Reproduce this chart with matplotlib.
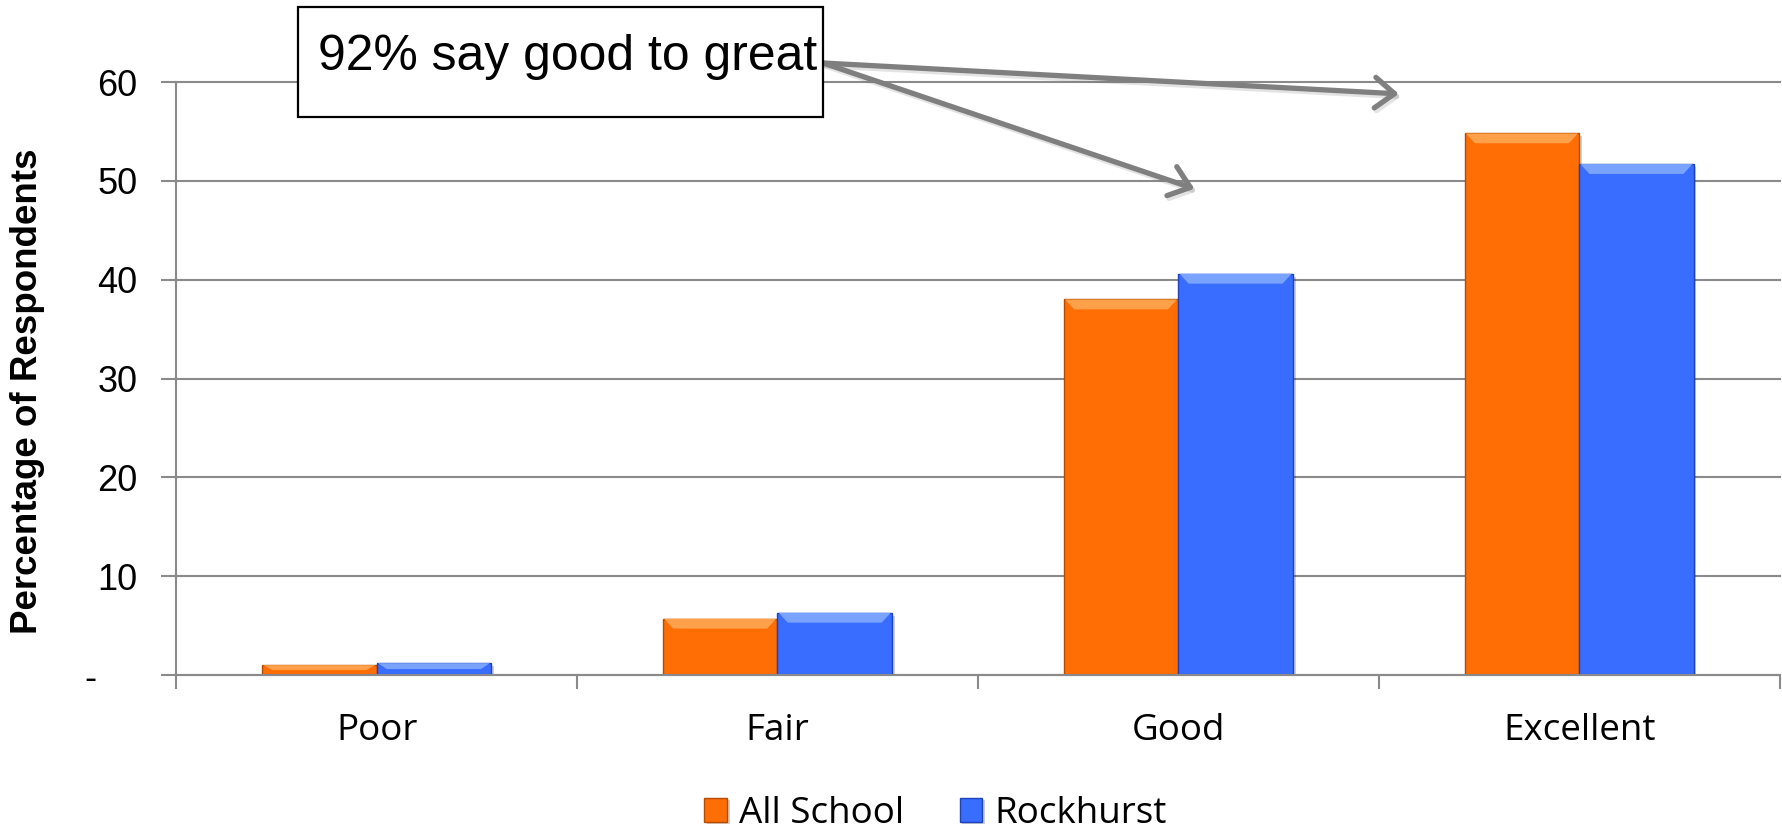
import matplotlib
matplotlib.use("Agg")
import matplotlib.pyplot as plt
import matplotlib.patheffects as pe
from matplotlib.patches import Polygon, Rectangle
import numpy as np

# Survey results (percentage of respondents)
categories = ["Poor", "Fair", "Good", "Excellent"]
all_school = [1.0, 5.7, 38.0, 54.8]
rockhurst = [1.2, 6.3, 40.6, 51.7]
series_names = ["All School", "Rockhurst"]
y_ticks = [0, 10, 20, 30, 40, 50, 60]
callout = "92% say good to great"

ORANGE, ORANGE_EDGE, ORANGE_TOP = "#ff6d05", "#b34c00", "#ffa04a"
BLUE, BLUE_EDGE, BLUE_TOP = "#396dff", "#1d43b8", "#7aa2ff"
GRID = "#8a8a8a"
ARROW = "#7f7f7f"

fig = plt.figure(figsize=(17.83, 8.31), dpi=100)
ax = fig.add_axes([0.0988, 0.1877, 0.8993, 0.7136])

x = np.arange(len(categories))
w = 1 / 3.5  # gap width 150%

shadow = [pe.SimplePatchShadow(offset=(2, -2), alpha=0.22), pe.Normal()]
b1 = ax.bar(x - w / 2, all_school, w, color=ORANGE, edgecolor=ORANGE_EDGE,
            lw=1, zorder=2, path_effects=shadow)
b2 = ax.bar(x + w / 2, rockhurst, w, color=BLUE, edgecolor=BLUE_EDGE,
            lw=1, zorder=2, path_effects=shadow)


def bevel(bars, color):
    # lighter trapezoid along the top of each bar
    for b in bars:
        x0, bw, h = b.get_x(), b.get_width(), b.get_height()
        dy = min(1.0, h * 0.5)
        dx = bw * 0.09
        ax.add_patch(Polygon([(x0 + 0.003, h), (x0 + bw - 0.003, h),
                              (x0 + bw - dx, h - dy), (x0 + dx, h - dy)],
                             closed=True, facecolor=color, edgecolor="none",
                             zorder=3))


bevel(b1, ORANGE_TOP)
bevel(b2, BLUE_TOP)

ax.set_xlim(-0.5, len(categories) - 0.5)
ax.set_ylim(0, 60)

# y axis
ax.set_yticks(y_ticks)
ax.set_yticklabels([str(v) if v else "-\u2007\u2007" for v in y_ticks],
                   family=["Liberation Sans", "DejaVu Sans"], fontsize=26)
ax.tick_params(axis="y", length=11, width=1.5, color=GRID, pad=17)
ax.yaxis.grid(True, color=GRID, lw=1.5)
for gl in ax.get_ygridlines():
    gl.set_clip_on(False)
ax.set_axisbelow(True)

# x axis: ticks between categories, labels centred
ax.set_xticks(np.arange(-0.5, len(categories), 1))
ax.tick_params(axis="x", which="major", length=10, width=1.5, color=GRID,
               labelbottom=False)
ax.set_xticks(x, minor=True)
ax.set_xticklabels(categories, minor=True, family="Open Sans", fontsize=26.5)
ax.tick_params(axis="x", which="minor", length=0, pad=27)

for s in ["top", "right"]:
    ax.spines[s].set_visible(False)
for s in ["left", "bottom"]:
    ax.spines[s].set_color(GRID)
    ax.spines[s].set_linewidth(1.5)

fig.text(27.5 / 1783, 0.529, "Percentage of Respondents", rotation=90,
         ha="center", va="center", fontsize=26.5, fontweight="bold",
         family="Liberation Sans")

# callout arrows
start = (823 / 1783, 1 - 63 / 831)
targets = [(2.55, 58.8), (2.04, 49.2)]
for tx, ty in targets:
    ann = ax.annotate("", xy=(tx, ty), xytext=start, textcoords="figure fraction",
                      annotation_clip=False,
                      arrowprops=dict(arrowstyle="->,head_length=0.7,head_width=0.55",
                                      color=ARROW, lw=3.8, mutation_scale=20,
                                      shrinkA=0, shrinkB=0))
    ann.arrow_patch.set_path_effects([
        pe.SimpleLineShadow(offset=(1.5, -2), shadow_color="#666666", alpha=0.18),
        pe.Normal()])

box = Rectangle((298 / 1783, 1 - 117 / 831), 525 / 1783, 110 / 831,
                transform=fig.transFigure, facecolor="white",
                edgecolor="black", lw=1.6, zorder=1)
fig.patches.append(box)
fig.text(318 / 1783, 1 - 70 / 831, callout, fontsize=35.9, va="baseline",
         family="Liberation Sans", zorder=3)

fig.legend([b1, b2], series_names, loc="center", bbox_to_anchor=(0.5247, 0.0210),
           ncol=2, frameon=False, prop={"family": "Open Sans", "size": 26.5},
           handlelength=0.62, handleheight=0.62, handletextpad=0.33,
           columnspacing=1.5, borderpad=0, borderaxespad=0)

fig.savefig("out.png", dpi=100)
